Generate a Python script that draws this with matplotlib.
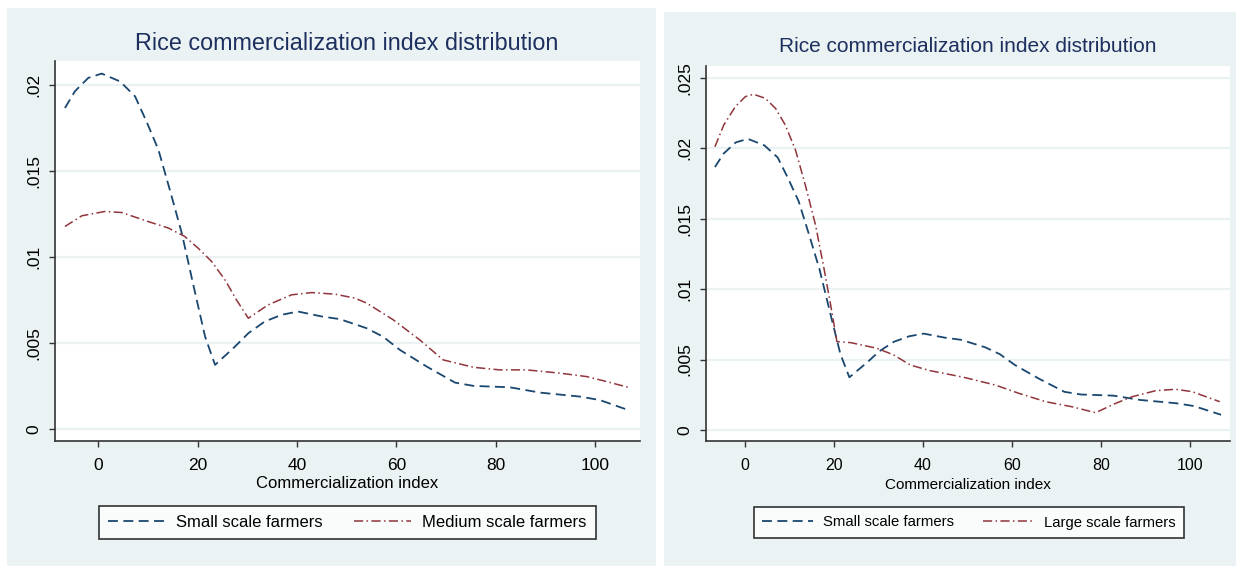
import matplotlib
matplotlib.use("Agg")
import matplotlib.pyplot as plt
from matplotlib.patches import Rectangle

plt.rcParams['font.family'] = ['Liberation Sans', 'DejaVu Sans']

# kernel density curves
small_x = [-6.7, -4.7, -2.0, 0.7, 4.4, 7.4, 9.7, 12.1, 14.4, 16.8, 19.5, 21.5, 23.5, 27.5, 30.2,
           33.5, 36.9, 40.2, 45.0, 48.6, 54.0, 57.3, 60.7, 66.1, 71.8, 75.5, 82.8, 88.9, 96.9,
           100.9, 107.0]
small_y = [.01866, .01963, .02041, .02066, .0202, .01934, .01788, .01624, .01391, .0114, .00791,
           .00538, .00374, .0048, .00558, .00626, .00665, .00684, .00655, .0064, .00587, .00538,
           .00461, .00364, .00271, .00252, .00244, .00213, .0019, .0017, .00108]

medium_x = [-6.7, -3.3, 1.3, 4.7, 10.0, 14.1, 17.4, 20.1, 22.8, 25.5, 27.8, 30.2, 34.2, 38.9, 42.9,
            47.6, 51.6, 54.0, 59.4, 64.7, 69.4, 75.5, 80.8, 86.2, 92.9, 98.3, 102.3, 106.6]
medium_y = [.01178, .0124, .01265, .01259, .01207, .01169, .0112, .01052, .00975, .00868, .00752,
            .00645, .00723, .00781, .00794, .00785, .00762, .00733, .00635, .00519, .00403, .0036,
            .00345, .00345, .00326, .00306, .00277, .00244]

large_x = [-6.7, -4.7, -2.1, 0.15, 2.0, 4.6, 6.9, 9.1, 11.4, 13.6, 15.9, 17.8, 19.3, 20.7, 23.8,
           29.7, 33.5, 37.2, 41.5, 48.9, 56.3, 61.6, 67.6, 73.5, 78.8, 83.3, 87.0, 92.3, 96.8,
           100.5, 106.7]
large_y = [.0201, .02165, .02295, .02366, .02382, .02354, .02283, .02165, .01987, .01739, .01455,
           .01147, .00887, .00627, .0062, .0058, .00532, .00461, .00422, .00376, .00319, .0026,
           .00201, .00165, .00123, .00189, .00236, .00279, .00289, .00272, .00201]

x_ticks = [0, 20, 40, 60, 80, 100]
y_ticks_left = [0, .005, .01, .015, .02]
y_labels_left = ['0', '.005', '.01', '.015', '.02']
y_ticks_right = [0, .005, .01, .015, .02, .025]
y_labels_right = ['0', '.005', '.01', '.015', '.02', '.025']

title = "Rice commercialization index distribution"
xlab = "Commercialization index"

NAVY = '#1a476f'
MAROON = '#90353b'
BG = '#eaf2f3'
TITLE_C = '#1c2f5e'

W, H = 1236, 566
fig = plt.figure(figsize=(W / 100, H / 100), dpi=100)
fig.patch.set_facecolor('white')


def px(x0, y0, x1, y1):
    # pixel box (top-left origin) -> figure fraction rect
    return [x0 / W, 1 - y1 / H, (x1 - x0) / W, (y1 - y0) / H]


# panel backgrounds
for x0, y0, x1, y1 in [(7, 8, 656, 566), (664, 12, 1236, 566)]:
    r = px(x0, y0, x1, y1)
    fig.add_artist(Rectangle((r[0], r[1]), r[2], r[3], transform=fig.transFigure,
                             facecolor=BG, edgecolor='none', zorder=0))


def panel(rect, other_x, other_y, other_lab, yticks, ylabels, ylim, title_xy, leg_box, fs):
    ax = fig.add_axes(px(*rect))
    ax.set_facecolor('white')
    ax.plot(small_x, small_y, color=NAVY, lw=1.3, dashes=(5.5, 3), label='Small scale farmers')
    ax.plot(other_x, other_y, color=MAROON, lw=1.1, dashes=(6, 2.2, 1, 2.2), label=other_lab)
    ax.set_xlim(-8.7, 109)
    ax.set_ylim(*ylim)
    ax.set_xticks(x_ticks)
    ax.set_yticks(yticks)
    ax.set_yticklabels(ylabels, rotation=90, va='center')
    ax.grid(axis='y', color=BG, lw=1.6)
    ax.set_axisbelow(True)
    for s in ['top', 'right']:
        ax.spines[s].set_visible(False)
    for s in ['left', 'bottom']:
        ax.spines[s].set_color('#333333')
        ax.spines[s].set_linewidth(1.2)
    ax.tick_params(length=4, width=1, color='#333333')
    ax.tick_params(axis='x', labelsize=fs['tick'], pad=8)
    ax.tick_params(axis='y', labelsize=fs['ytick'], pad=6)
    ax.set_xlabel(xlab, fontsize=fs['lab'], labelpad=fs['labpad'])
    fig.text(title_xy[0] / W, 1 - title_xy[1] / H, title, fontsize=fs['title'], color=TITLE_C,
             ha='center', va='center')
    lb = px(*leg_box)
    leg = ax.legend(loc='center', bbox_to_anchor=lb, bbox_transform=fig.transFigure,
                    ncol=2, mode='expand', fontsize=fs['leg'], frameon=True, fancybox=False,
                    handlelength=3.4, handletextpad=0.7, borderaxespad=0, borderpad=0.55)
    leg.get_frame().set_edgecolor('black')
    leg.get_frame().set_linewidth(1.2)
    return ax


panel((55, 61, 640, 441), medium_x, medium_y, 'Medium scale farmers',
      y_ticks_left, y_labels_left, (-0.00068, 0.02139), (347, 43), (99, 505, 596, 540),
      {'title': 16.8, 'tick': 12.5, 'ytick': 12.5, 'lab': 12, 'labpad': 2.5, 'leg': 12})
panel((706, 66, 1230, 441), large_x, large_y, 'Large scale farmers',
      y_ticks_right, y_labels_right, (-0.00078, 0.02583), (968, 47), (754, 505, 1184, 540),
      {'title': 15, 'tick': 11.5, 'ytick': 12.5, 'lab': 11, 'labpad': 4, 'leg': 10.7})

fig.savefig('out.png', dpi=100)
